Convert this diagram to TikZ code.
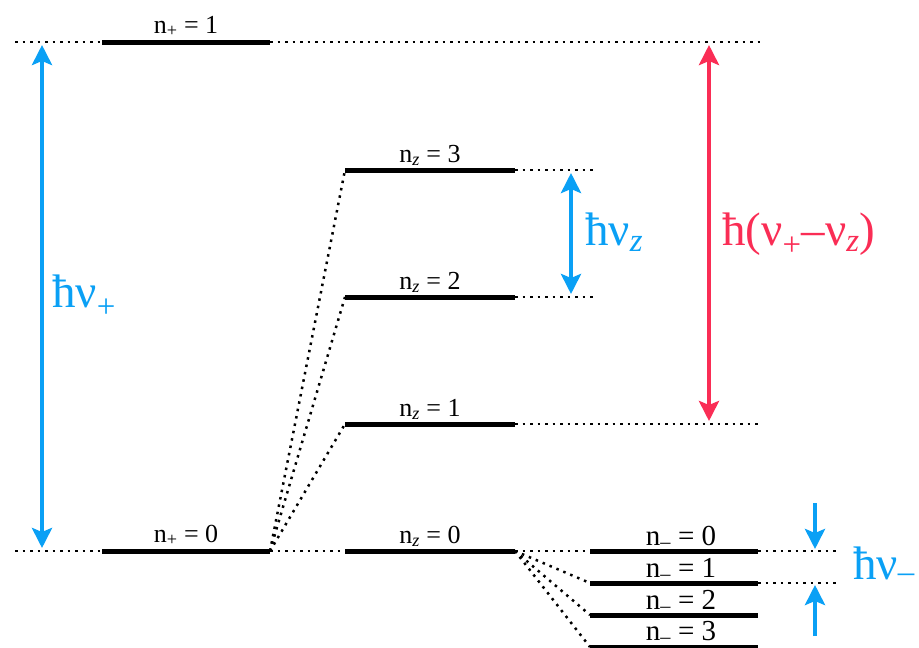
\documentclass[tikz,border=0pt]{standalone}
\usepackage{fontspec}
\setmainfont{Liberation Serif}
\usetikzlibrary{arrows.meta}
\definecolor{cblue}{RGB}{10,160,245}
\definecolor{cred}{RGB}{250,45,85}
\begin{document}
\begin{tikzpicture}[x=1pt,y=-1pt,
  bar/.style={line width=5pt},
  dots/.style={line width=2.5pt, dash pattern=on 2.5pt off 5pt},
  levlab/.style={font=\fontsize{26}{28}\selectfont, anchor=base, inner sep=0pt},
  mlab/.style={font=\fontsize{29}{31}\selectfont, anchor=base, inner sep=0pt},
  biglab/.style={font=\fontsize{47}{50}\selectfont, anchor=base west, inner sep=0pt},
  dblarrow/.style={line width=4pt, {Stealth[length=20pt,width=20pt,inset=4pt]}-{Stealth[length=20pt,width=20pt,inset=4pt]}},
  onearrow/.style={line width=4pt, cblue, -{Stealth[length=20pt,width=20pt,inset=4pt]}}
]
\useasboundingbox (0,0) rectangle (919,648);
% coordinates of levels
\coordinate (p1a) at (15,42);  \coordinate (p1L) at (102,42); \coordinate (p1R) at (270,42); \coordinate (p1b) at (760,42);
\coordinate (p0a) at (15,551); \coordinate (p0L) at (102,551); \coordinate (p0R) at (270,551);
\coordinate (z3L) at (345,170); \coordinate (z3R) at (515,170); \coordinate (z3b) at (595,170);
\coordinate (z2L) at (345,297); \coordinate (z2R) at (515,297); \coordinate (z2b) at (595,297);
\coordinate (z1L) at (345,424); \coordinate (z1R) at (515,424); \coordinate (z1b) at (760,424);
\coordinate (z0L) at (345,551); \coordinate (z0R) at (515,551);
\coordinate (m0L) at (590,551); \coordinate (m0R) at (758,551); \coordinate (m0b) at (840,551);
\coordinate (m1L) at (590,583); \coordinate (m1R) at (758,583); \coordinate (m1b) at (840,583);
\coordinate (m2L) at (590,615); \coordinate (m2R) at (758,615);
\coordinate (m3L) at (590,647); \coordinate (m3R) at (758,647);
% dotted guides
\draw[dots] (p1a) -- (p1L);
\draw[dots] (p1R) -- (p1b);
\draw[dots] (p0a) -- (p0L);
\draw[dots] (p0R) -- (z0L);
\draw[dots] (p0R) -- (z1L);
\draw[dots] (p0R) -- (z2L);
\draw[dots] (p0R) -- (z3L);
\draw[dots] (z3R) -- (z3b);
\draw[dots] (z2R) -- (z2b);
\draw[dots] (z1R) -- (z1b);
\draw[dots] (z0R) -- (m0L);
\draw[dots] (z0R) -- (m1L);
\draw[dots] (z0R) -- (m2L);
\draw[dots] (z0R) -- (m3L);
\draw[dots] (m0R) -- (m0b);
\draw[dots] (m1R) -- (m1b);
% level bars
\draw[bar] (p1L) -- (p1R);
\draw[bar] (p0L) -- (p0R);
\draw[bar] (z3L) -- (z3R);
\draw[bar] (z2L) -- (z2R);
\draw[bar] (z1L) -- (z1R);
\draw[bar] (z0L) -- (z0R);
\draw[bar] (m0L) -- (m0R);
\draw[bar] (m1L) -- (m1R);
\draw[bar] (m2L) -- (m2R);
\draw[bar] (m3L) -- (m3R);
% level labels
\node[levlab] (lp1) at (186,33) {n\textsubscript{+} = 1};
\node[levlab] (lp0) at (186,542) {n\textsubscript{+} = 0};
\node[levlab] (lz3) at (430,162) {n\textsubscript{\itshape z} = 3};
\node[levlab] (lz2) at (430,289) {n\textsubscript{\itshape z} = 2};
\node[levlab] (lz1) at (430,416) {n\textsubscript{\itshape z} = 1};
\node[levlab] (lz0) at (430,543) {n\textsubscript{\itshape z} = 0};
\node[mlab] (lm0) at (681,545) {n\textsubscript{–} = 0};
\node[mlab] (lm1) at (681,577) {n\textsubscript{–} = 1};
\node[mlab] (lm2) at (681,609) {n\textsubscript{–} = 2};
\node[mlab] (lm3) at (681,640) {n\textsubscript{–} = 3};
% arrows
\coordinate (a1t) at (42,45); \coordinate (a1b) at (42,548);
\coordinate (a2t) at (571,173); \coordinate (a2b) at (571,294);
\coordinate (a3t) at (709,45); \coordinate (a3b) at (709,421);
\coordinate (a4s) at (815,503); \coordinate (a4e) at (815,549);
\coordinate (a5s) at (815,636); \coordinate (a5e) at (815,585);
\draw[dblarrow, cblue] (a1t) -- (a1b);
\draw[dblarrow, cblue] (a2t) -- (a2b);
\draw[dblarrow, cred] (a3t) -- (a3b);
\draw[onearrow] (a4s) -- (a4e);
\draw[onearrow] (a5s) -- (a5e);
% energy labels
\node[biglab, text=cblue] (ep) at (52,307) {ħν\textsubscript{+}};
\node[biglab, text=cblue] (ez) at (585,245) {ħν\textsubscript{\itshape z}};
\node[biglab, text=cred] (ed) at (722,245) {ħ(ν\textsubscript{+}–ν\textsubscript{\itshape z})};
\node[biglab, text=cblue] (em) at (853,579) {ħν\textsubscript{–}};
\end{tikzpicture}
\end{document}
